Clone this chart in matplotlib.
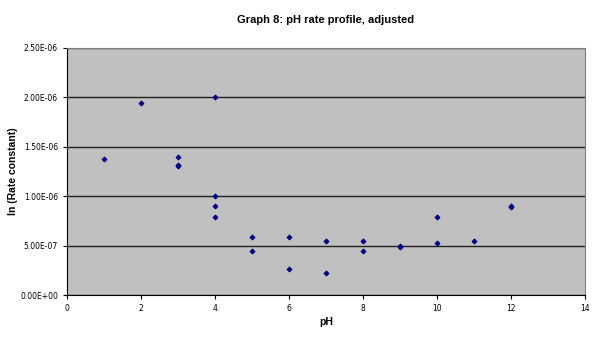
import matplotlib
matplotlib.use("Agg")
import matplotlib.pyplot as plt
from matplotlib.ticker import FuncFormatter

# Datos
ph = [1, 2, 3, 3, 3, 4, 4, 4, 4, 5, 5, 6, 6, 7, 7, 8, 8, 9, 9, 10, 10, 11, 12, 12]
rate = [1.38e-6, 1.94e-6, 1.40e-6, 1.32e-6, 1.31e-6, 2.00e-6, 1.00e-6, 0.90e-6,
        0.79e-6, 0.59e-6, 0.45e-6, 0.59e-6, 0.26e-6, 0.545e-6, 0.22e-6, 0.545e-6,
        0.45e-6, 0.49e-6, 0.50e-6, 0.79e-6, 0.53e-6, 0.545e-6, 0.90e-6, 0.895e-6]

fig = plt.figure(figsize=(6.03, 3.42), dpi=100)
ax = fig.add_axes([0.111, 0.137, 0.859, 0.723])
ax.set_facecolor("#c0c0c0")

ax.scatter(ph, rate, marker="D", s=5, color="#000080", zorder=3)

ax.set_xlim(0, 14)
ax.set_ylim(0, 2.5e-6)
ax.set_xticks(range(0, 15, 2))
ax.set_yticks([i * 0.5e-6 for i in range(6)])
ax.yaxis.set_major_formatter(FuncFormatter(lambda v, p: "%.2E" % v))
ax.grid(axis="y", color="#202020", linewidth=1)
ax.set_axisbelow(True)

for s in ["top", "right"]:
    ax.spines[s].set_color("#808080")
for s in ["left", "bottom"]:
    ax.spines[s].set_color("black")
ax.tick_params(labelsize=5.5, length=3, direction="out", width=0.8)

ax.set_title("Graph 8: pH rate profile, adjusted", fontsize=8, fontweight="bold", pad=18,
             family="Liberation Sans")
ax.set_xlabel("pH", fontsize=7.5, fontweight="bold", family="Liberation Sans")
ax.set_ylabel("ln (Rate constant)", fontsize=7.5, fontweight="bold", family="Liberation Sans")
ax.xaxis.set_label_coords(0.5, -0.09)
ax.yaxis.set_label_coords(-0.095, 0.5)

fig.savefig("out.png", dpi=100)
